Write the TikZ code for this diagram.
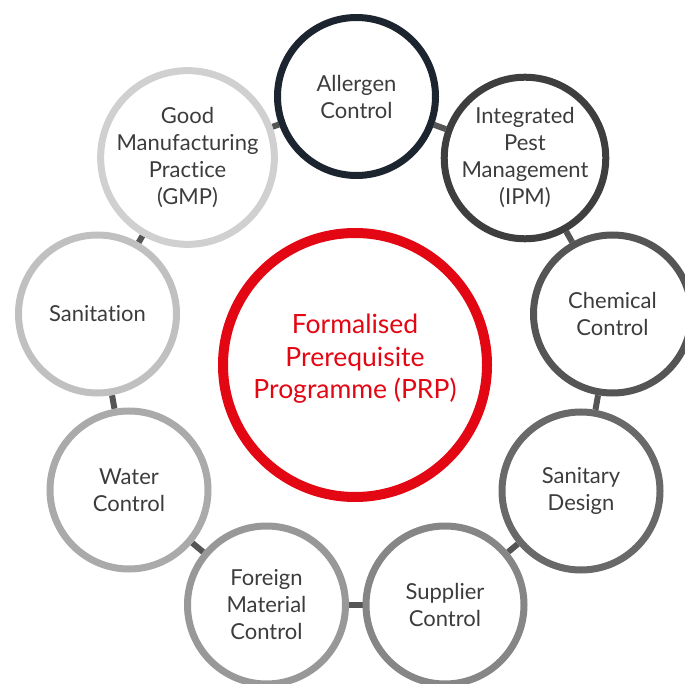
\documentclass[tikz,border=0pt]{standalone}
\usepackage{fontspec}
\setmainfont{Lato}[Ligatures=NoCommon]
\usetikzlibrary{backgrounds}
\definecolor{prpred}{HTML}{E30613}
\definecolor{txt}{HTML}{3C3C3C}
\definecolor{conn}{HTML}{555555}
\definecolor{cA}{HTML}{1C2430}
\definecolor{cB}{RGB}{62,62,62}
\definecolor{cC}{RGB}{85,85,85}
\definecolor{cD}{RGB}{105,105,105}
\definecolor{cE}{RGB}{134,134,134}
\definecolor{cF}{RGB}{152,152,152}
\definecolor{cG}{RGB}{170,170,170}
\definecolor{cH}{RGB}{192,192,192}
\definecolor{cI}{RGB}{208,208,208}
\begin{document}
\begin{tikzpicture}[x=1pt,y=-1pt,
  item/.style={circle,draw,line width=7pt,minimum size=158pt,inner sep=0pt,
    align=center,text=txt,font=\fontsize{22}{27}\selectfont},
  hub/.style={circle,draw=prpred,line width=10pt,minimum size=264pt,inner sep=0pt},
  hubtext/.style={align=center,text=prpred,font=\fontsize{26.5}{32.5}\selectfont},
  link/.style={draw=conn,line width=6pt}]
\useasboundingbox (0,0) rectangle (685,684);
\node[hub] (prp) at (355,365) {};
\node[hubtext] (prpt) at (355,359) {Formalised\\Prerequisite\\Programme (PRP)};
\node[item,draw=cA] (all) at (356.5,96.5) {Allergen\\Control};
\node[item,draw=cB] (ipm) at (525,158) {Integrated\\Pest\\Management\\(IPM)};
\node[item,draw=cC] (chem) at (612.5,314) {Chemical\\Control};
\node[item,draw=cD] (sd) at (581,491) {Sanitary\\Design};
\node[item,draw=cE] (sup) at (445,605) {Supplier\\Control};
\node[item,draw=cF] (fm) at (266.5,605) {Foreign\\Material\\Control};
\node[item,draw=cG] (wat) at (129,490) {Water\\Control};
\node[item,draw=cH] (san) at (97.5,314) {Sanitation};
\node[item,draw=cI] (gmp) at (187.5,157.5) {Good\\Manufacturing\\Practice\\(GMP)};
\begin{scope}[on background layer]
\draw[link] (all) -- (ipm);
\draw[link] (ipm) -- (chem);
\draw[link] (chem) -- (sd);
\draw[link] (sd) -- (sup);
\draw[link] (sup) -- (fm);
\draw[link] (fm) -- (wat);
\draw[link] (wat) -- (san);
\draw[link] (san) -- (gmp);
\draw[link] (gmp) -- (all);
\end{scope}
\end{tikzpicture}
\end{document}
